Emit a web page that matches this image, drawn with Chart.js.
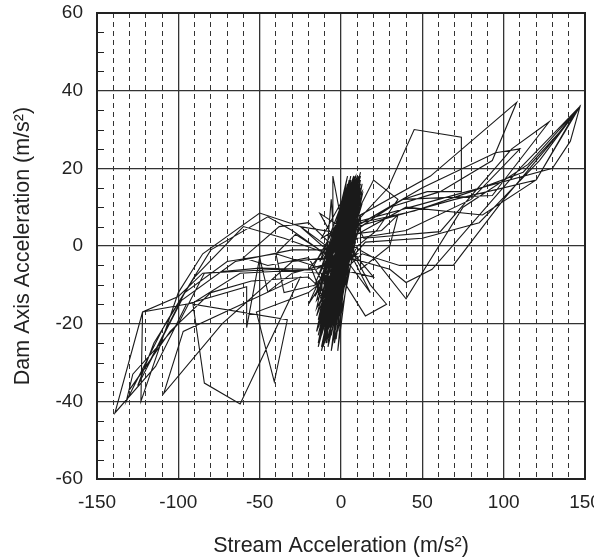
<!DOCTYPE html>
<html>
<head>
<meta charset="utf-8">
<script src="https://cdn.jsdelivr.net/npm/chart.js@4.4.1/dist/chart.umd.min.js"></script>
<style>
  html, body { margin: 0; padding: 0; background: #fff; }
  #wrap { width: 594px; height: 559px; }
</style>
</head>
<body>
<div id="wrap"><canvas id="chart" width="594" height="559"></canvas></div>
<script>
// --------- Data (stream acc, dam axis acc) ---------

const startCluster = [[0,0],[2,4],[-1,-3],[4,7],[-3,-6],[5,9],[-4,-8],[6,10],[-6,-11],[3,7],[-5,-9],[7,13],[-2,-7],[5,12],[-7,-12],[8,12],[-5,-14],[6,9],[-8,-13],[2,2]];
const loopRightA = [[9,6],[29,15],[45,30],[74,28],[74,14],[53,14],[38,12],[12,5]];
const clusterB = [[-3,-6],[5,10],[-8,-14],[9,13],[-6,-16],[7,15],[-10,-18],[10,16],[-4,-8],[3,9],[-9,-20],[6,11],[-2,-4],[11,15],[-7,-17],[4,6],[-14,-3],[-4,-5]];
const midLeftA = [[-6,-3],[-28,3],[-40,-2],[-35,-12],[-15,-10]];
const clusterJ = [[-12,-14],[3,16],[-9,-25],[12,10],[-15,-18],[8,18],[-4,-22],[13,13],[-14,-12],[2,12],[-7,-24],[11,7],[-10,-6],[6,17],[-13,-20],[9,4],[-6,-16],[4,14],[-11,-9],[10,9]];
const loopLeftA = [[-20,-6],[-50,-5.7],[-85,-7],[-100,-13],[-122,-17],[-139,-43],[-114,-31],[-95,-15],[-58,-10.5],[-58,-21],[-50,-3],[-45,-11.8],[-30,-7],[-12,-5]];
const clusterC = [[-5,-10],[6,12],[-9,-17],[8,10],[-11,-21],[11,17],[-7,-19],[5,7],[-12,-22],[9,14],[-3,-2],[2,8],[-8,-11],[7,16],[-10,-16],[4,3],[-25,5],[-6,-2]];
const midRightA = [[6,3],[25,4],[35,8],[30,0],[12,-6]];
const loopRightB = [[12,8],[55,18],[108,37],[93,22],[61,14],[30,10],[9,4]];
const clusterD = [[-4,-9],[10,18],[-13,-24],[8,13],[-6,-12],[12,17],[-9,-22],[3,5],[-11,-18],[9,16],[-2,-10],[6,14],[-8,-20],[1,2],[18,-12],[4,-4]];
const loopLeftB = [[-25,5],[-50,8.5],[-85,-2],[-100,-12],[-123,-40],[-122,-17],[-91,-14.7],[-62,-7],[-15,-6]];
const clusterK = [[-8,-4],[5,15],[-14,-26],[13,16],[-3,-20],[7,5],[-12,-10],[10,18],[-6,-23],[11,12],[-9,-8],[1,10],[-15,-22],[12,8],[-5,-13],[8,16],[-10,-25],[6,2],[-2,-12],[3,7]];
const clusterN = [[-14,-8],[4,15],[-2,-22],[12,8],[-12,2],[9,18],[-8,-25],[8,-2],[-15,-14],[2,12],[-5,-19],[13,14],[-13,-4],[6,17],[-10,-22],[10,3],[-7,-1],[3,16],[-11,-26],[7,0]];
const midLeftB = [[-5,0],[-20,6],[-38,5],[-60,-3],[-45,-5],[-20,-3]];
const clusterE = [[-6,-13],[9,12],[-12,-19],[7,17],[-10,-23],[11,14],[-5,-11],[4,11],[-14,-23],[8,15],[-1,-5],[10,13],[-7,-15],[3,4],[-13,8.4],[-2,0]];
const loopRightC = [[10,3],[40,10],[87,8],[120,17],[147,36],[128,26],[100,12],[69,-5],[36,-5],[13,-2]];
const clusterF = [[-3,-8],[6,15],[-11,-25],[10,11],[-8,-16],[12,19],[-13,-21],[5,9],[-2,-14],[7,13],[-9,-18],[11,16],[-4,-6],[2,5],[-20,-15],[-3,-4]];
const loopLeftC = [[-30,4],[-45,7.5],[-80,-1],[-108,-20],[-132,-40],[-128,-33],[-100,-20],[-84,-7],[-40,-6],[-12,-7]];
const clusterL = [[-11,-17],[9,18],[-7,-21],[12,14],[-13,-15],[4,16],[-8,-26],[10,6],[-4,-16],[7,9],[-12,-23],[13,11],[-1,-9],[5,12],[-9,-12],[11,18],[-6,-19],[2,3]];
const loopRightH = [[9,5],[50,15],[95,24],[110,25],[80,12],[40,4],[10,2]];
const clusterO = [[-16,-10],[1,9],[-4,-25],[11,11],[-12,-17],[12,18],[-9,-3],[5,14],[-14,-21],[8,5],[-1,-18],[-6,12],[-13,-24],[9,9],[-10,-11],[4,18],[-15,-16],[11,4],[-3,-9],[2,2]];
const loopRightD = [[5,4],[38,12],[93,13],[128,32],[105,25],[61,3.7],[14,2]];
const midRightB = [[8,7],[20,17],[35,12],[22,4],[10,0]];
const clusterG = [[-7,-14],[9,17],[-12,-26],[8,9],[-5,-18],[-5,18],[4,-2],[-10,-20],[10,12],[-2,-27],[6,10],[-9,-15],[12,16],[0,-3],[10,-2]];
const loopLeftD = [[-20,-12],[-52,-17],[-41,-35],[-33,-19],[-91,-15],[-84,-35.3],[-62,-40.7],[-25,-8],[-97,-22],[-109,-38],[-73,-20],[-30,-4],[-8,-3]];
const loopLeftF = [[-8,-2],[-35,2],[-60,5],[-90,-8],[-115,-25],[-125,-36],[-98,-14],[-65,-4],[-30,-1],[-5,-1]];
const loopRightE = [[8,6],[60,12],[130,20],[141,27],[147,36],[110,20],[56,-6],[40,-9.4],[30,-6],[5,-3]];
const clusterH = [[-4,-12],[7,12],[-11,-19],[9,15],[-6,-10],[5,13],[-8,-17],[4,8],[-3,-4],[2,1],[20,-8],[-1,-6]];
const midRightC = [[5,0],[18,-10],[28,-15],[15,-18],[3,-10]];
const loopLeftE = [[-10,-6],[-40,-2],[-70,-4],[-96,-12],[-118,-30],[-130,-37],[-105,-22],[-80,-12],[-55,-9],[-20,-8]];
const clusterM = [[-10,-12],[8,11],[-5,-24],[12,15],[-14,-19],[6,18],[-7,-9],[11,10],[-12,-27],[9,16],[-3,-15],[4,5],[-8,-18],[10,14],[-11,-7],[3,13],[-6,-21],[7,6]];
const clusterP = [[-12,-6],[7,17],[-6,-27],[10,7],[-16,-13],[3,11],[-9,-21],[12,12],[-4,-3],[5,17],[-14,-25],[9,1],[-11,-15],[6,8],[-7,-18],[-18,-6],[10,15],[-3,-24],[8,11],[0,-2]];
const loopRightF = [[10,5],[70,12],[120,17],[145,35],[115,21],[75,10],[40,-13.6],[20,-3],[3,1]];
const loopRightG = [[12,6],[45,9],[80,14],[112,19],[138,31],[147,36],[122,22],[85,6],[50,2],[15,1]];
const clusterI = [[-6,-9],[8,14],[-10,-21],[7,11],[-7,-13],[6,16],[-12,-20],[5,6],[-3,-7],[1,0]];

const xMajorTicks = [-150, -100, -50, 0, 50, 100, 150];
const yMinorTicks = [-55, -50, -45, -35, -30, -25, -15, -10, -5, 5, 10, 15, 25, 30, 35, 45, 50, 55];

const trace = [].concat(
  startCluster, loopRightA, clusterB, midLeftA, clusterJ, loopLeftA, clusterC,
  midRightA, loopRightB, clusterD, loopLeftB, clusterK, clusterN, midLeftB, clusterE,
  loopRightC, clusterF, loopLeftC, clusterL, loopRightH, clusterO, loopRightD, midRightB,
  clusterG, loopLeftD, loopLeftF, loopRightE, clusterH, midRightC, loopLeftE, clusterM,
  clusterP, loopRightF, loopRightG, clusterI
).map(([x, y]) => ({ x, y }));

// --------- Frame + small inner ticks on the y axis ---------

const framePlugin = {
  id: 'frame',
  afterDraw(chart) {
    const { ctx, chartArea: a, scales: { y } } = chart;
    ctx.save();
    ctx.strokeStyle = '#222';
    ctx.lineWidth = 1;
    yMinorTicks.forEach(v => {
      const py = Math.round(y.getPixelForValue(v)) + 0.5;
      ctx.beginPath();
      ctx.moveTo(a.left, py);
      ctx.lineTo(a.left + 7, py);
      ctx.stroke();
    });
    ctx.lineWidth = 2;
    ctx.strokeRect(a.left, a.top, a.right - a.left, a.bottom - a.top);
    ctx.restore();
  }
};

const isMajorX = v => xMajorTicks.includes(v);
const fontFamily = "'Liberation Sans', Arial, Helvetica, sans-serif";

new Chart(document.getElementById('chart'), {
  type: 'scatter',
  data: {
    datasets: [{
      data: trace,
      showLine: true,
      borderColor: '#1a1a1a',
      borderWidth: 1.1,
      pointRadius: 0,
      tension: 0
    }]
  },
  options: {
    responsive: false,
    devicePixelRatio: 1,
    animation: false,
    layout: { padding: { left: 6, right: 9, top: 13, bottom: 0 } },
    plugins: { legend: { display: false }, tooltip: { enabled: false } },
    scales: {
      x: {
        type: 'linear',
        min: -150,
        max: 150,
        afterFit: s => { s.height = 80; s.paddingLeft = 0; s.paddingRight = 0; },
        ticks: {
          stepSize: 10,
          autoSkip: false,
          maxRotation: 0,
          padding: 12,
          color: '#222',
          font: { family: fontFamily, size: 19 },
          callback: v => (v % 50 === 0 ? v : '')
        },
        grid: {
          drawTicks: false,
          color: '#333',
          lineWidth: c => (c.tick && isMajorX(c.tick.value) ? 1.3 : 1)
        },
        border: {
          display: false,
          dash: c => (c.tick && !isMajorX(c.tick.value) ? [5, 4] : [])
        },
        title: {
          display: true,
          text: 'Stream Acceleration (m/s²)',
          color: '#222',
          padding: { top: 0, bottom: 0 },
          font: { family: fontFamily, size: 21.5, weight: 'normal' }
        }
      },
      y: {
        type: 'linear',
        min: -60,
        max: 60,
        afterFit: s => { s.width = 91; s.paddingTop = 0; s.paddingBottom = 0; },
        ticks: {
          stepSize: 20,
          padding: 14,
          color: '#222',
          font: { family: fontFamily, size: 19 }
        },
        grid: { drawTicks: false, color: '#333', lineWidth: 1.3 },
        border: { display: false },
        title: {
          display: true,
          text: 'Dam Axis Acceleration (m/s²)',
          color: '#222',
          padding: { top: 4, bottom: 4 },
          font: { family: fontFamily, size: 21.5, weight: 'normal' }
        }
      }
    }
  },
  plugins: [framePlugin]
});
</script>
</body>
</html>
